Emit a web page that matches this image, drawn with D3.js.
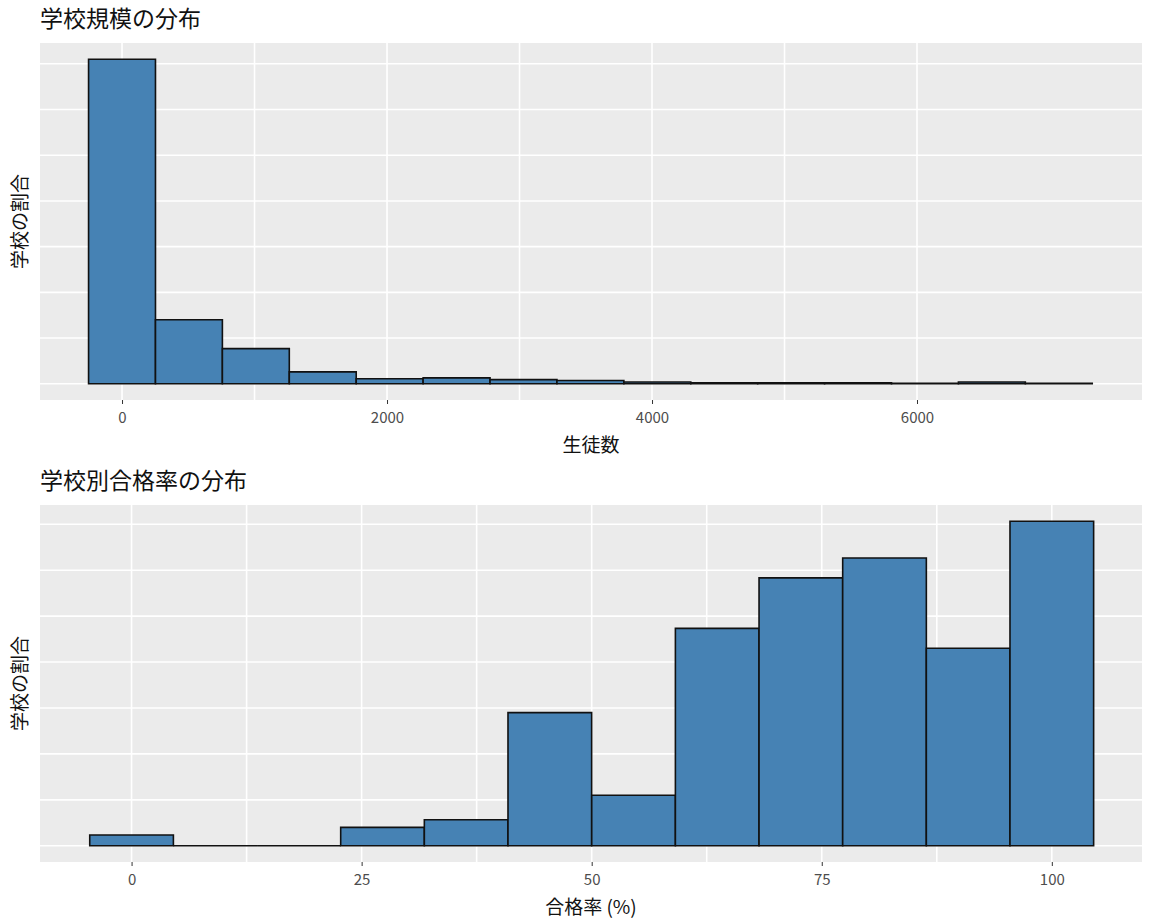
<!DOCTYPE html>
<html>
<head>
<meta charset="utf-8">
<script src="https://cdn.jsdelivr.net/npm/d3@7"></script>
<style>
  body { margin: 0; background: #fff; }
  text { font-family: "Noto Sans CJK JP", "Noto Sans", sans-serif; }
</style>
</head>
<body>
<div id="chart"></div>
<script>
// Top: school size histogram (15 bins, width ~505, first centred on 0)
const sizeBins = [0, 505, 1010, 1515, 2020, 2525, 3030, 3535, 4040, 4545, 5050, 5555, 6060, 6565, 7070];
const sizeShare = [0.71, 0.14, 0.077, 0.026, 0.011, 0.013, 0.009, 0.007, 0.004, 0.002, 0.002, 0.002, 0.001, 0.004, 0.001];
const sizeTicks = [0, 2000, 4000, 6000];

// Bottom: pass-rate histogram (12 bins from -4.55 to 104.55)
const rateBins = [0, 9.09, 18.18, 27.27, 36.36, 45.45, 54.55, 63.64, 72.73, 81.82, 90.91, 100];
const rateShare = [0.007, 0, 0, 0.012, 0.017, 0.087, 0.033, 0.142, 0.175, 0.188, 0.129, 0.212];
const rateTicks = [0, 25, 50, 75, 100];

const width = 1152, height = 921;
const svg = d3.select("#chart").append("svg").attr("width", width).attr("height", height);

function panel(o) {
    const x = d3.scaleLinear().domain(o.xDomain).range([40, 1142]);
    const maxY = d3.max(o.values);
    const y = d3.scaleLinear().domain([-maxY * 0.05, maxY * 1.05]).range([o.bottom, o.top]);

    svg.append("text").attr("x", 40).attr("y", o.top - 16)
        .attr("font-size", 23).attr("fill", "#111").text(o.title);

    svg.append("rect").attr("x", 40).attr("y", o.top)
        .attr("width", 1102).attr("height", o.bottom - o.top).attr("fill", "#ebebeb");

    const g = svg.append("g");
    // vertical grid: majors and minors
    const minors = o.ticks.slice(0, -1).map((t, i) => (t + o.ticks[i + 1]) / 2);
    g.selectAll(".vx").data(o.ticks.concat(minors)).enter().append("line")
        .attr("x1", d => x(d)).attr("x2", d => x(d))
        .attr("y1", o.top).attr("y2", o.bottom)
        .attr("stroke", "#fff").attr("stroke-width", 1.6);
    // horizontal grid
    const yt = d3.range(0, maxY * 1.05, o.yStep);
    g.selectAll(".hy").data(yt).enter().append("line")
        .attr("x1", 40).attr("x2", 1142)
        .attr("y1", d => y(d)).attr("y2", d => y(d))
        .attr("stroke", "#fff").attr("stroke-width", 1.6);

    // bars (paths so zero-height bins still draw their outline)
    svg.append("g").selectAll("path").data(o.bins).enter().append("path")
        .attr("d", (d, i) => {
            const x0 = x(d - o.bw / 2), x1 = x(d + o.bw / 2);
            const y0 = y(0), y1 = y(o.values[i]);
            return `M${x0},${y0}V${y1}H${x1}V${y0}Z`;
        })
        .attr("fill", "#4682b4").attr("stroke", "#111").attr("stroke-width", 1.6);

    // x axis
    const ax = svg.append("g").attr("transform", `translate(0,${o.bottom})`)
        .call(d3.axisBottom(x).tickValues(o.ticks).tickSize(4).tickPadding(8).tickFormat(d3.format("d")));
    ax.select(".domain").remove();
    ax.selectAll("line").attr("stroke", "#333");
    ax.selectAll("text").attr("font-size", 15).attr("fill", "#4d4d4d")
        .attr("font-family", "Liberation Sans, Arial, sans-serif");

    svg.append("text").attr("x", (40 + 1142) / 2).attr("y", o.bottom + 52)
        .attr("text-anchor", "middle").attr("font-size", 19).attr("fill", "#111").text(o.xTitle);

    const cy = (o.top + o.bottom) / 2;
    svg.append("text").attr("transform", `translate(27,${cy}) rotate(-90)`)
        .attr("text-anchor", "middle").attr("font-size", 19).attr("fill", "#111").text("学校の割合");
}

panel({ title: "学校規模の分布", xTitle: "生徒数", top: 43, bottom: 400,
        xDomain: [-619, 7698], bins: sizeBins, values: sizeShare, bw: 505,
        ticks: sizeTicks, yStep: 0.1 });
panel({ title: "学校別合格率の分布", xTitle: "合格率 (%)", top: 505, bottom: 862,
        xDomain: [-9.95, 109.8], bins: rateBins, values: rateShare, bw: 9.09,
        ticks: rateTicks, yStep: 0.03 });
</script>
</body>
</html>
